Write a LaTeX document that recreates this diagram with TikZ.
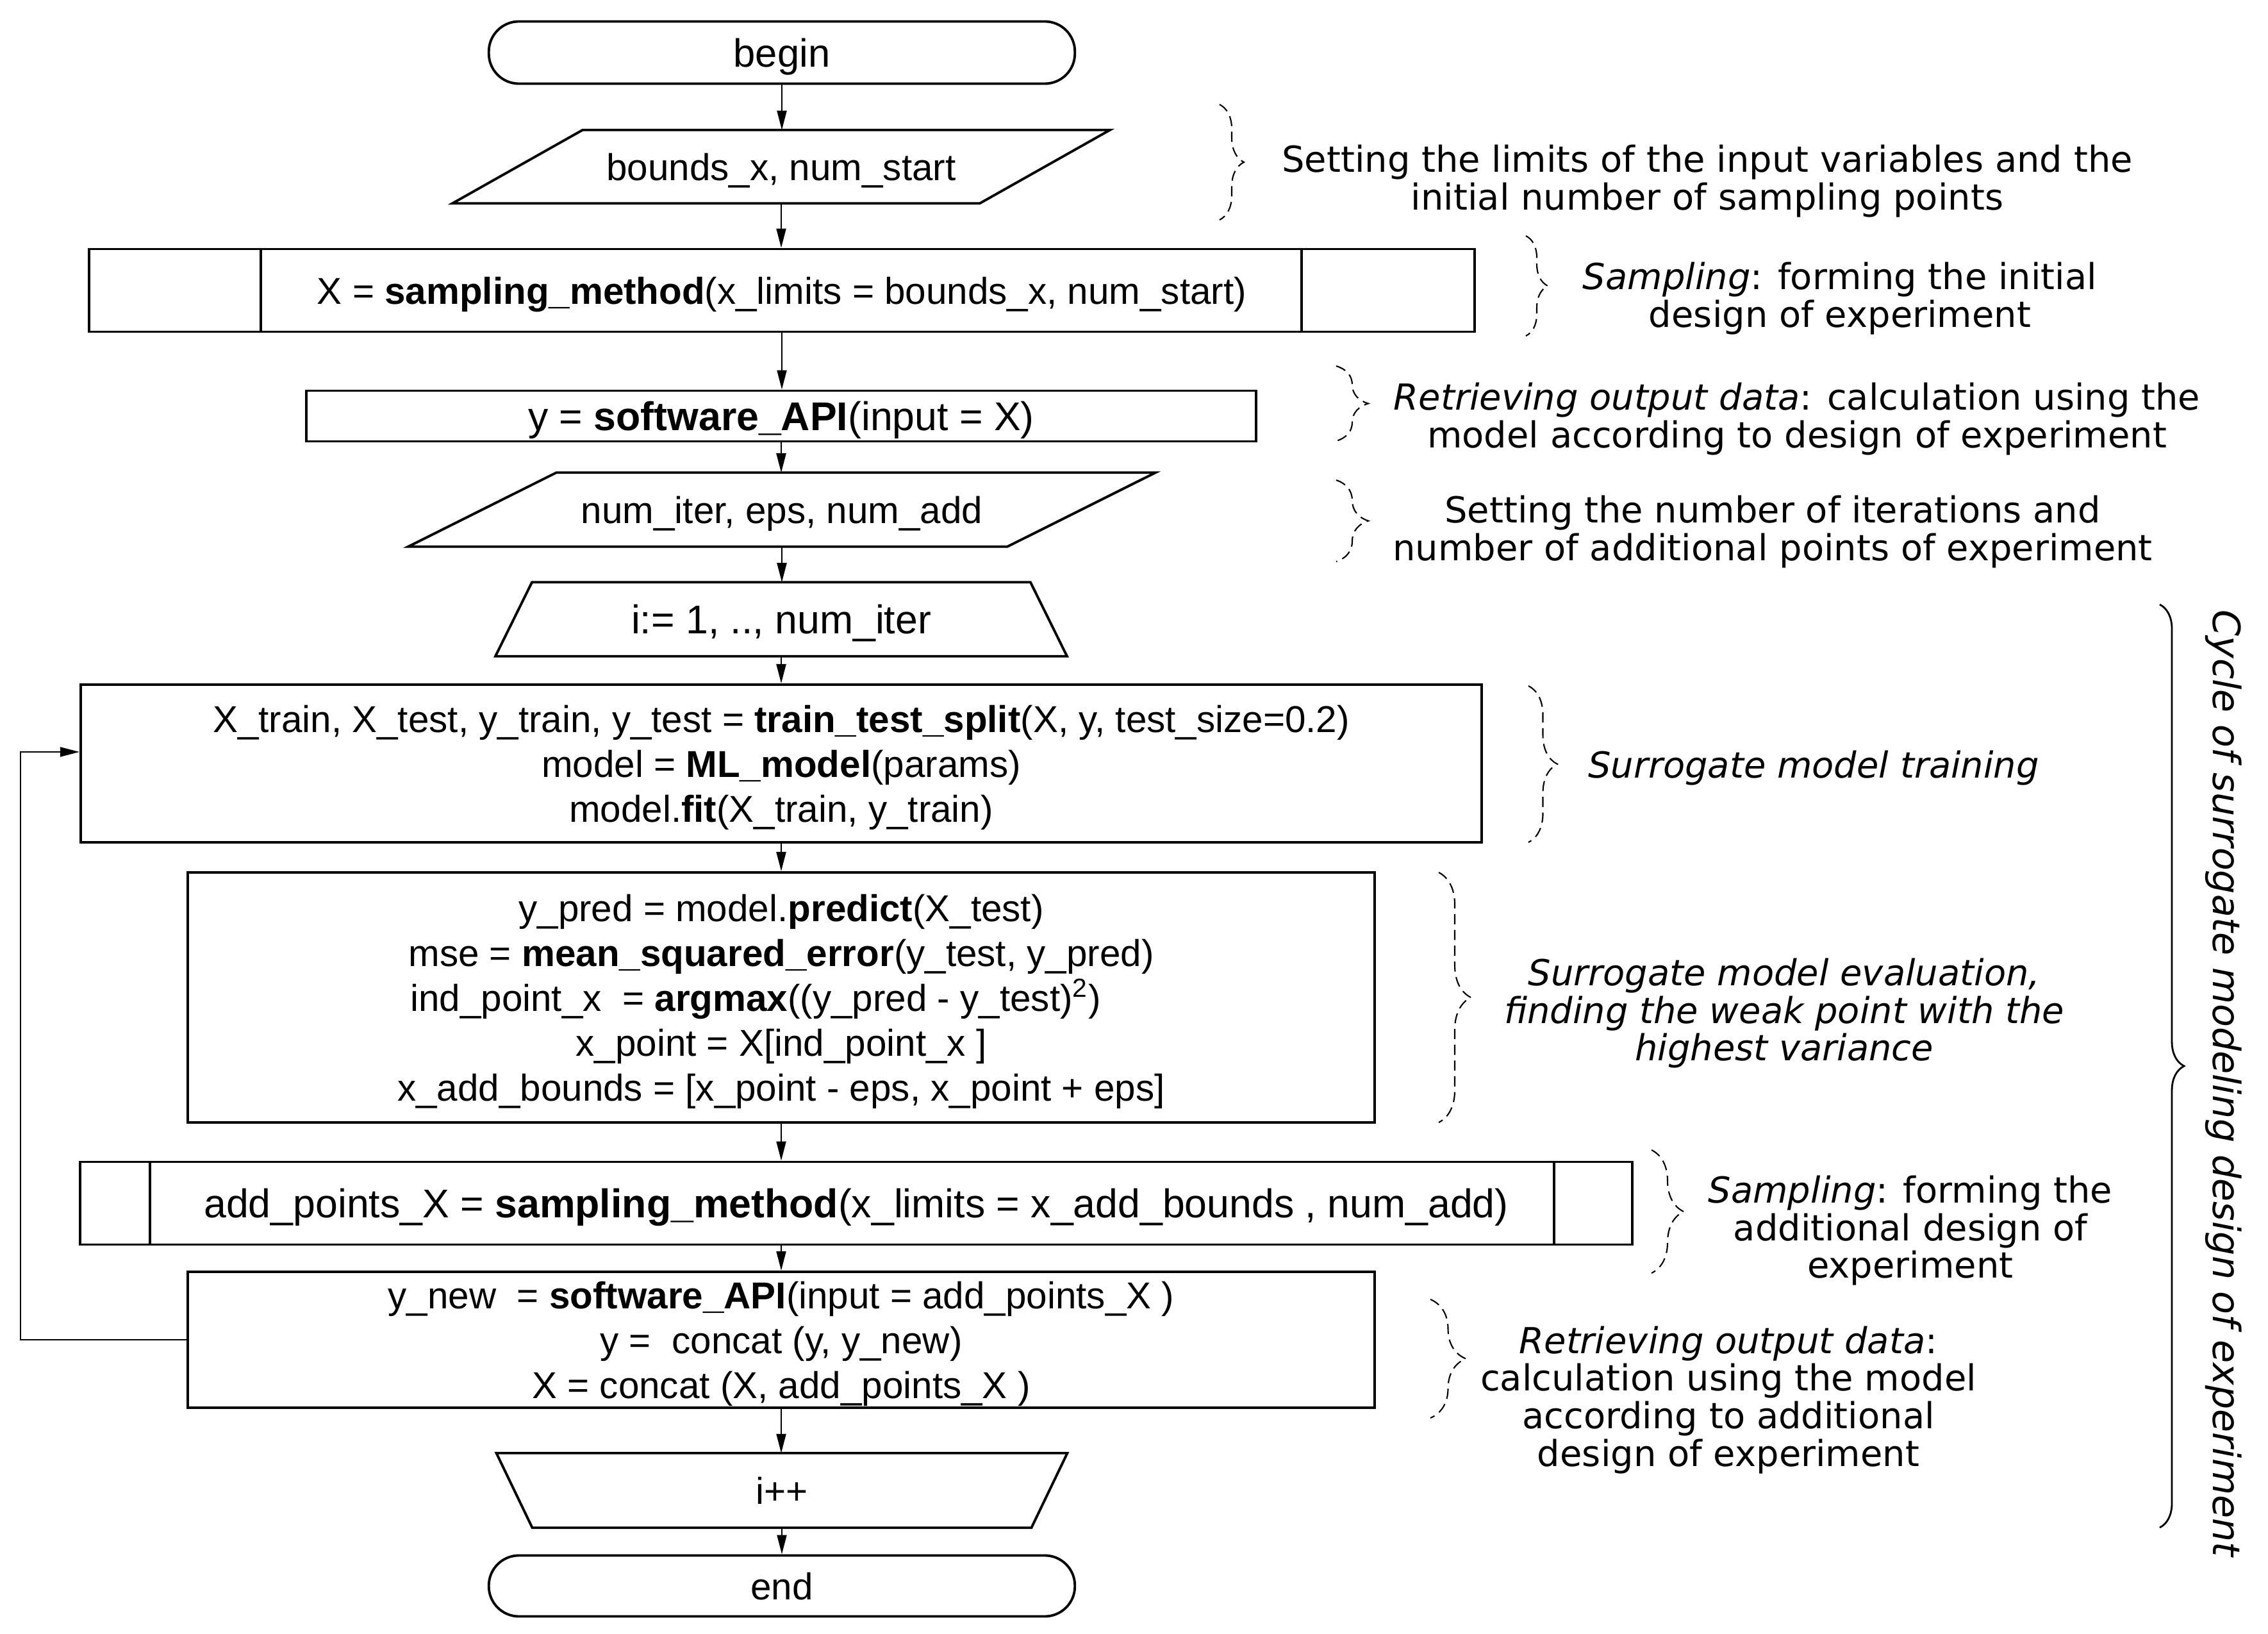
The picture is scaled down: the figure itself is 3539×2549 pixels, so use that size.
\documentclass[tikz,border=0pt]{standalone}
\usepackage{fontspec}
\setmainfont{Liberation Sans}
\newfontfamily\annfont{DejaVu Sans}[ItalicFont={DejaVu Sans Oblique}]
\usetikzlibrary{arrows.meta,decorations.pathreplacing,calc}
\begin{document}
\begin{tikzpicture}[x=0.01cm,y=-0.01cm,
 shp/.style={draw, line width=1.1pt},
 boxt/.style={inner sep=0pt, align=center, text depth=0pt, font=\fontsize{16.6}{19.9}\selectfont},
 bigt/.style={font=\fontsize{17.8}{19.9}\selectfont},
 box/.style={boxt, shp},
 conn/.style={line width=0.6pt, -{Triangle[length=0.3cm,width=0.15cm]}},
 ann/.style={inner sep=0pt, align=center, text depth=0pt, font=\annfont\fontsize{15.9}{16.7}\selectfont},
 dbrace/.style={decorate, line width=0.6pt, dash pattern=on 4.5pt off 2.5pt},
 bigbrace/.style={decorate, line width=0.8pt},
]
\fill[white] (0,0) rectangle (3539,2549);
\useasboundingbox (0,0) rectangle (3539,2549);

% flow nodes
\node[box, font=\fontsize{17.5}{19.9}\selectfont, rounded corners=0.47cm, minimum width=9.14cm, minimum height=0.97cm] (begin) at (1220,82) {begin};
\node[boxt, minimum width=10.24cm, minimum height=1.13cm] (in1) at (1219,260) {bounds\_x, num\_start};
\draw[shp] ([xshift=2.03cm]in1.north west) -- (in1.north east) -- ([xshift=-2.03cm]in1.south east) -- (in1.south west) -- cycle;

\node[box, minimum width=21.6cm, minimum height=1.29cm] (samp1) at (1220,453) {X = \textbf{sampling\_method}(x\_limits = bounds\_x, num\_start)};
\draw[shp] ([xshift=2.69cm]samp1.north west) -- ([xshift=2.69cm]samp1.south west);
\draw[shp] ([xshift=-2.71cm]samp1.north east) -- ([xshift=-2.71cm]samp1.south east);

\node[box, bigt, minimum width=14.81cm, minimum height=0.79cm] (api1) at (1219,649) {y = \textbf{software\_API}(input = X)};

\node[boxt, minimum width=11.64cm, minimum height=1.14cm] (in2) at (1220,795) {num\_iter, eps, num\_add};
\draw[shp] ([xshift=2.31cm]in2.north west) -- (in2.north east) -- ([xshift=-2.31cm]in2.south east) -- (in2.south west) -- cycle;

\node[boxt, bigt, minimum width=8.90cm, minimum height=1.14cm] (loop1) at (1219,966) {i:= 1, .., num\_iter};
\draw[shp] ([xshift=0.57cm]loop1.north west) -- ([xshift=-0.57cm]loop1.north east) -- (loop1.south east) -- (loop1.south west) -- cycle;

\node[box, minimum width=21.85cm, minimum height=2.46cm] (train) at (1219,1191) {X\_train, X\_test, y\_train, y\_test = \textbf{train\_test\_split}(X, y, test\_size=0.2)\\ model = \textbf{ML\_model}(params)\\ model.\textbf{fit}(X\_train, y\_train)};

\node[box, minimum width=18.51cm, minimum height=3.90cm] (pred) at (1219,1556) {y\_pred = model.\textbf{predict}(X\_test)\\ mse = \textbf{mean\_squared\_error}(y\_test, y\_pred)\\ ind\_point\_x\ \ = \textbf{argmax}((y\_pred - y\_test)\textsuperscript{2})\makebox[0.8cm]{}\\ x\_point = X[ind\_point\_x ]\\ x\_add\_bounds = [x\_point - eps, x\_point + eps]};

\node[box, bigt, minimum width=24.20cm, minimum height=1.29cm] (samp2) at (1336,1877) {add\_points\_X = \textbf{sampling\_method}(x\_limits = x\_add\_bounds , num\_add)};
\draw[shp] ([xshift=1.11cm]samp2.north west) -- ([xshift=1.11cm]samp2.south west);
\draw[shp] ([xshift=-1.24cm]samp2.north east) -- ([xshift=-1.24cm]samp2.south east);

\node[box, minimum width=18.51cm, minimum height=2.12cm] (api2) at (1219,2090) {y\_new\ \ = \textbf{software\_API}(input = add\_points\_X )\\ y =\ \ concat (y, y\_new)\\ X = concat (X, add\_points\_X )};

\node[boxt, minimum width=8.89cm, minimum height=1.15cm] (loop2) at (1220,2325) {i++};
\draw[shp] (loop2.north west) -- (loop2.north east) -- ([xshift=-0.56cm]loop2.south east) -- ([xshift=0.56cm]loop2.south west) -- cycle;

\node[box, rounded corners=0.47cm, minimum width=9.14cm, minimum height=0.95cm] (end) at (1220,2474) {end};

% connectors
\draw[conn] (begin.south) -- (begin.south |- in1.north);
\draw[conn] (in1.south) -- (in1.south |- samp1.north);
\draw[conn] (samp1.south) -- (samp1.south |- api1.north);
\draw[conn] (api1.south) -- (api1.south |- in2.north);
\draw[conn] (in2.south) -- (in2.south |- loop1.north);
\draw[conn] (loop1.south) -- (loop1.south |- train.north);
\draw[conn] (train.south) -- (train.south |- pred.north);
\draw[conn] (pred.south) -- (pred.south |- samp2.north);
\draw[conn] (api2.north |- samp2.south) -- (api2.north);
\draw[conn] (api2.south) -- (api2.south |- loop2.north);
\draw[conn] (loop2.south) -- (loop2.south |- end.north);
\coordinate (lx) at (32,2094);
\draw[conn] (api2.west) -- (api2.west -| lx) |- ([yshift=0.18cm]train.west);

% annotations
\draw[dbrace, decoration={brace,amplitude=0.38cm}] (1903,163) -- (1903,343);
\node[ann] (a1) at (2664,277) {Setting the limits of the input variables and the\\initial number of sampling points};
\draw[dbrace, decoration={brace,amplitude=0.34cm}] (2381,368) -- (2381,524);
\node[ann] (a2) at (2871,460) {\textit{Sampling}: forming the initial\\design of experiment};
\draw[dbrace, decoration={brace,amplitude=0.5cm}] (2085,571) -- (2085,688);
\node[ann] (a3) at (2804,648) {\textit{Retrieving output data}: calculation using the\\model according to design of experiment};
\draw[dbrace, decoration={brace,amplitude=0.5cm}] (2085,749) -- (2085,876);
\node[ann] (a4) at (2766,824) {Setting the number of iterations and\\number of additional points of experiment};
\draw[dbrace, decoration={brace,amplitude=0.45cm}] (2385,1070) -- (2385,1314);
\node[ann] (a5) at (2830,1192) {\textit{Surrogate model training}};
\draw[dbrace, decoration={brace,amplitude=0.5cm}] (2245,1361) -- (2245,1751);
\node[ann, font=\annfont\itshape\fontsize{15.9}{16.7}\selectfont] (a6) at (2784,1575) {Surrogate model evaluation,\\finding the weak point with the\\highest variance};
\draw[dbrace, decoration={brace,amplitude=0.5cm}] (2577,1794) -- (2577,1986);
\node[ann] (a7) at (2981,1914) {\textit{Sampling}: forming the\\additional design of\\experiment};
\draw[dbrace, decoration={brace,amplitude=0.55cm}] (2232,2027) -- (2232,2212);
\node[ann] (a8) at (2697,2178) {\textit{Retrieving output data}:\\calculation using the model\\according to additional\\design of experiment};

\draw[bigbrace, decoration={brace,amplitude=0.38cm}] (3370,943) -- (3370,2383);
\node[ann, rotate=-90, font=\annfont\itshape\fontsize{16.7}{18}\selectfont] (cyc) at (3476,1690) {Cycle of surrogate modeling design of experiment};
\end{tikzpicture}
\end{document}
